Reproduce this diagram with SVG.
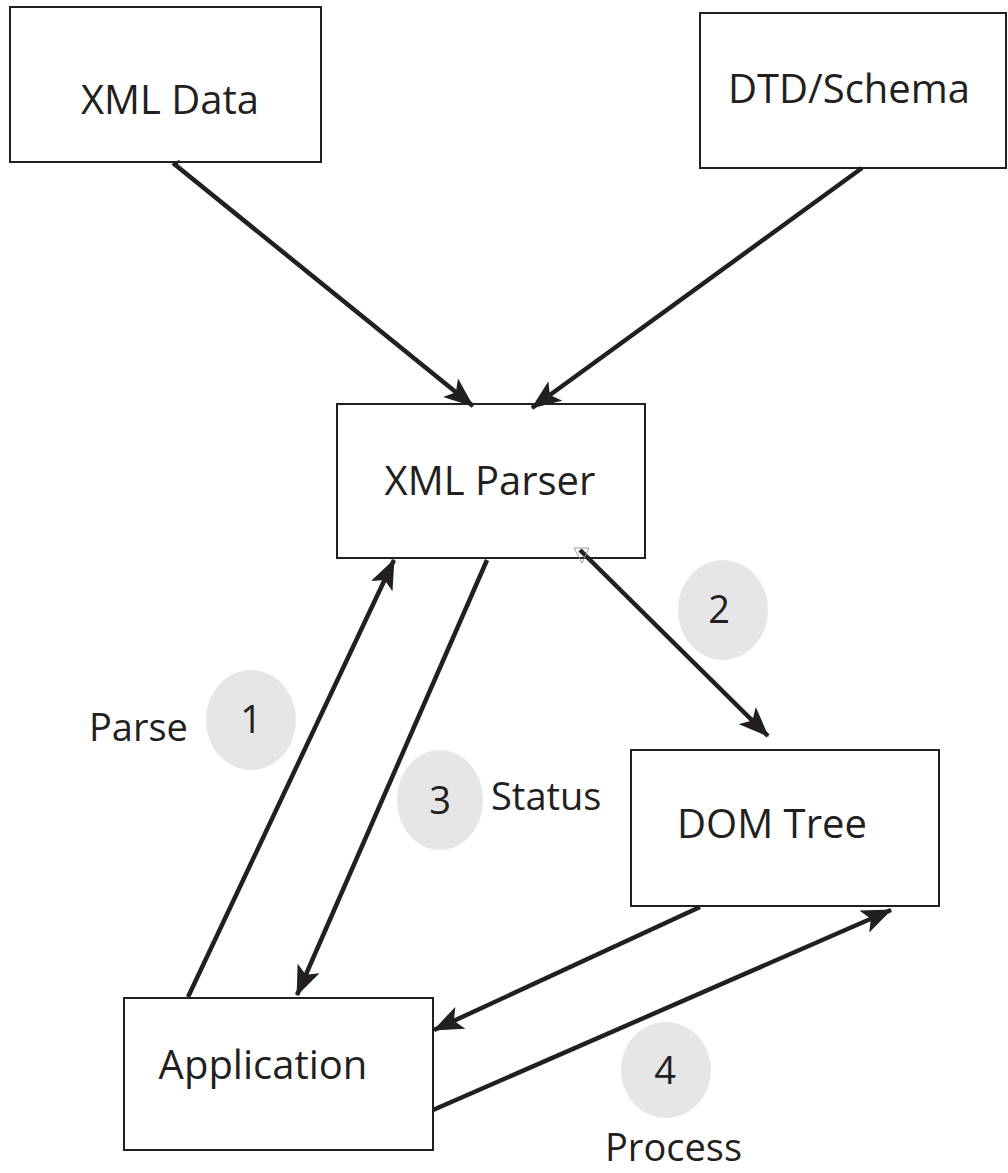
<svg xmlns="http://www.w3.org/2000/svg" width="1008" height="1173" viewBox="0 0 1008 1173">
<style>
.box{fill:#fff;stroke:#231f20;stroke-width:2}
.lbl{font-family:"Open Sans","Liberation Sans",sans-serif;font-size:40px;fill:#231f20;text-anchor:middle}
.sm{font-family:"Open Sans","Liberation Sans",sans-serif;font-size:38px;fill:#231f20}
.c{fill:#e6e6e7}
.ar{stroke:#231f20;stroke-width:4.5;fill:none;marker-end:url(#ah)}
</style>
<defs>
<marker id="ah" markerUnits="userSpaceOnUse" markerWidth="30" markerHeight="24" viewBox="0 0 30 24" refX="29" refY="12" orient="auto">
<path d="M0,0 L30,12 L0,24 L7,12 Z" fill="#231f20"/>
</marker>
</defs>
<rect width="1008" height="1173" fill="#fff"/>
<g id="xml-data"><rect class="box" x="10" y="7" width="311" height="155"/><text class="lbl" x="170" y="114">XML Data</text></g>
<g id="dtd-schema"><rect class="box" x="700" y="13" width="306" height="155"/><text class="lbl" x="849" y="103">DTD/Schema</text></g>
<g id="xml-parser"><rect class="box" x="337" y="404" width="308" height="154"/><text class="lbl" x="490" y="495">XML Parser</text></g>
<g id="dom-tree"><rect class="box" x="631" y="750" width="308" height="156"/><text class="lbl" x="772" y="838">DOM Tree</text></g>
<g id="application"><rect class="box" x="124" y="998" width="309" height="152"/><text class="lbl" x="263" y="1079">Application</text></g>
<g id="badges">
<ellipse class="c" cx="251" cy="720" rx="45" ry="50"/><text class="sm" x="251" y="733" text-anchor="middle">1</text>
<ellipse class="c" cx="723" cy="610" rx="45" ry="50"/><text class="sm" x="719" y="623" text-anchor="middle">2</text>
<ellipse class="c" cx="440" cy="800" rx="43" ry="50"/><text class="sm" x="440" y="814" text-anchor="middle">3</text>
<ellipse class="c" cx="666" cy="1070" rx="45" ry="48"/><text class="sm" x="665" y="1084" text-anchor="middle">4</text>
<text class="sm" x="89" y="741">Parse</text>
<text class="sm" x="491" y="810">Status</text>
<text class="sm" x="605" y="1161">Process</text>
</g>
<g id="connectors">
<line class="ar" x1="173" y1="163" x2="473" y2="406"/>
<path d="M173,162 L180,160 L176,168 Z" fill="#231f20"/>
<line class="ar" x1="862" y1="168" x2="532" y2="408"/>
<line class="ar" x1="188" y1="997" x2="394" y2="560"/>
<line class="ar" x1="487" y1="560" x2="297" y2="995"/>
<line class="ar" x1="580" y1="550" x2="768" y2="736"/>
<path d="M574,548 L589,548 L582,563 Z" fill="none" stroke="#9a9a9a" stroke-width="1"/>
<line class="ar" x1="700" y1="907" x2="434" y2="1030"/>
<line class="ar" x1="433" y1="1110" x2="891" y2="910"/>
</g>
</svg>
